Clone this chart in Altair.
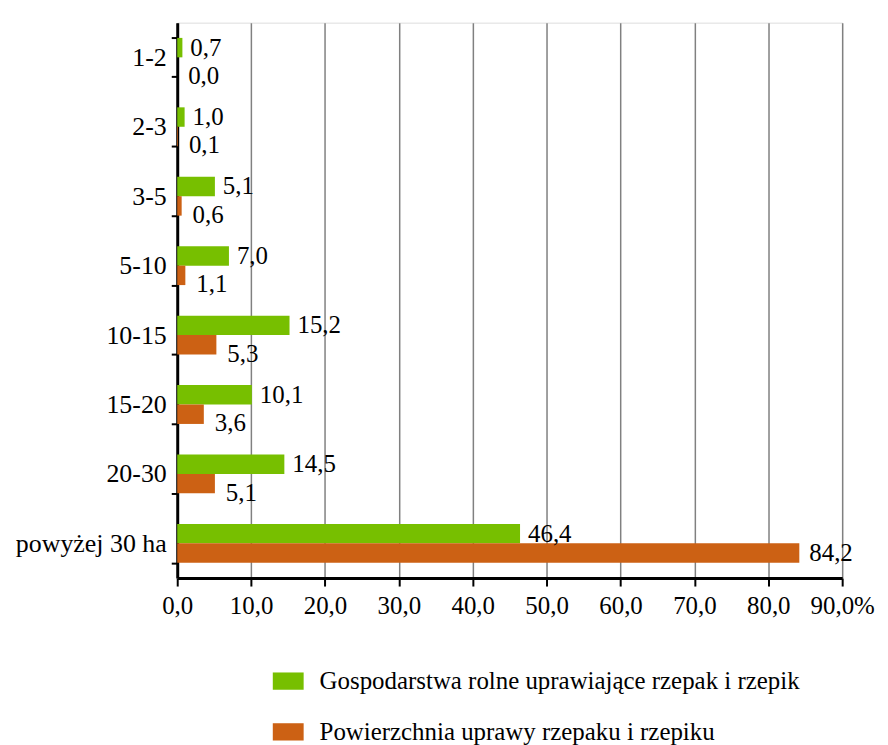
import altair as alt
import pandas as pd

categories = ["1-2", "2-3", "3-5", "5-10", "10-15", "15-20", "20-30", "powyżej 30 ha"]
series_names = ["Gospodarstwa rolne uprawiające rzepak i rzepik",
                "Powierzchnia uprawy rzepaku i rzepiku"]
farms = [0.7, 1.0, 5.1, 7.0, 15.2, 10.1, 14.5, 46.4]
area = [0.0, 0.1, 0.6, 1.1, 5.3, 3.6, 5.1, 84.2]
x_ticks = [0, 10, 20, 30, 40, 50, 60, 70, 80, 90]
colors = ["#77BF00", "#CC6114"]

rows = []
for c, a, b in zip(categories, farms, area):
    rows.append({"cat": c, "series": series_names[0], "v": a})
    rows.append({"cat": c, "series": series_names[1], "v": b})
df = pd.DataFrame(rows)

FONT = "Liberation Serif"
FS = 25
W, H = 668, 558

base = alt.Chart(df).transform_calculate(
    lab="replace(format(datum.v, '.1f'), '.', ',')"
)

y_enc = alt.Y("cat:N", sort=categories, title=None,
              scale=alt.Scale(paddingInner=0.44, paddingOuter=0.22),
              axis=alt.Axis(tickBand="extent", tickSize=6, tickWidth=2, tickColor="black",
                            domainColor="black", domainWidth=3, labelFont=FONT,
                            labelFontSize=26, labelColor="black", labelPadding=5,
                            grid=False))
yoff = alt.YOffset("series:N", sort=series_names)

bars = base.mark_bar(strokeWidth=1).encode(
    x=alt.X("v:Q", title=None,
            scale=alt.Scale(domain=[0, 90], nice=False),
            axis=alt.Axis(values=x_ticks, tickSize=8, tickWidth=2, tickColor="black",
                          domainColor="black", domainWidth=3, labelFont=FONT,
                          labelFontSize=FS, labelColor="black", labelPadding=8,
                          labelOverlap=False, labelFlush=False,
                          grid=True, gridColor="#808080", gridWidth=1.5,
                          labelExpr="replace(format(datum.value, '.1f'), '.', ',') + (datum.value == 90 ? '%' : '')")),
    y=y_enc,
    yOffset=yoff,
    color=alt.Color("series:N", sort=series_names,
                    scale=alt.Scale(domain=series_names, range=colors),
                    legend=alt.Legend(title=None, orient="none", legendX=96, legendY=646,
                                      direction="vertical",
                                      symbolType="M-1,-0.56H1V0.56H-1Z", symbolSize=961,
                                      symbolStrokeWidth=0, labelFont=FONT, labelFontSize=FS,
                                      labelColor="black", labelOffset=16, rowPadding=22,
                                      labelLimit=700)),
)

txt_green = base.transform_filter(alt.datum.series == series_names[0]).mark_text(
    align="left", baseline="middle", dx=8, font=FONT, fontSize=FS, color="black"
).encode(x="v:Q", y=alt.Y("cat:N", sort=categories), yOffset=yoff, text="lab:N")

txt_orange = base.transform_filter(
    (alt.datum.series == series_names[1]) & (alt.datum.cat != categories[-1])
).mark_text(
    align="left", baseline="middle", dx=11, dy=9, font=FONT, fontSize=FS, color="black"
).encode(x="v:Q", y=alt.Y("cat:N", sort=categories), yOffset=yoff, text="lab:N")

txt_last = base.transform_filter(
    (alt.datum.series == series_names[1]) & (alt.datum.cat == categories[-1])
).mark_text(
    align="left", baseline="middle", dx=10, font=FONT, fontSize=FS, color="black"
).encode(x="v:Q", y=alt.Y("cat:N", sort=categories), yOffset=yoff, text="lab:N")

chart = alt.layer(bars, txt_green, txt_orange, txt_last).properties(
    width=W, height=H,
    padding={"left": 7, "top": 0, "right": 5, "bottom": 0}
).configure_view(stroke=None).configure(background="white")

chart.save("out.html", embed_options={"renderer": "svg", "actions": False})
